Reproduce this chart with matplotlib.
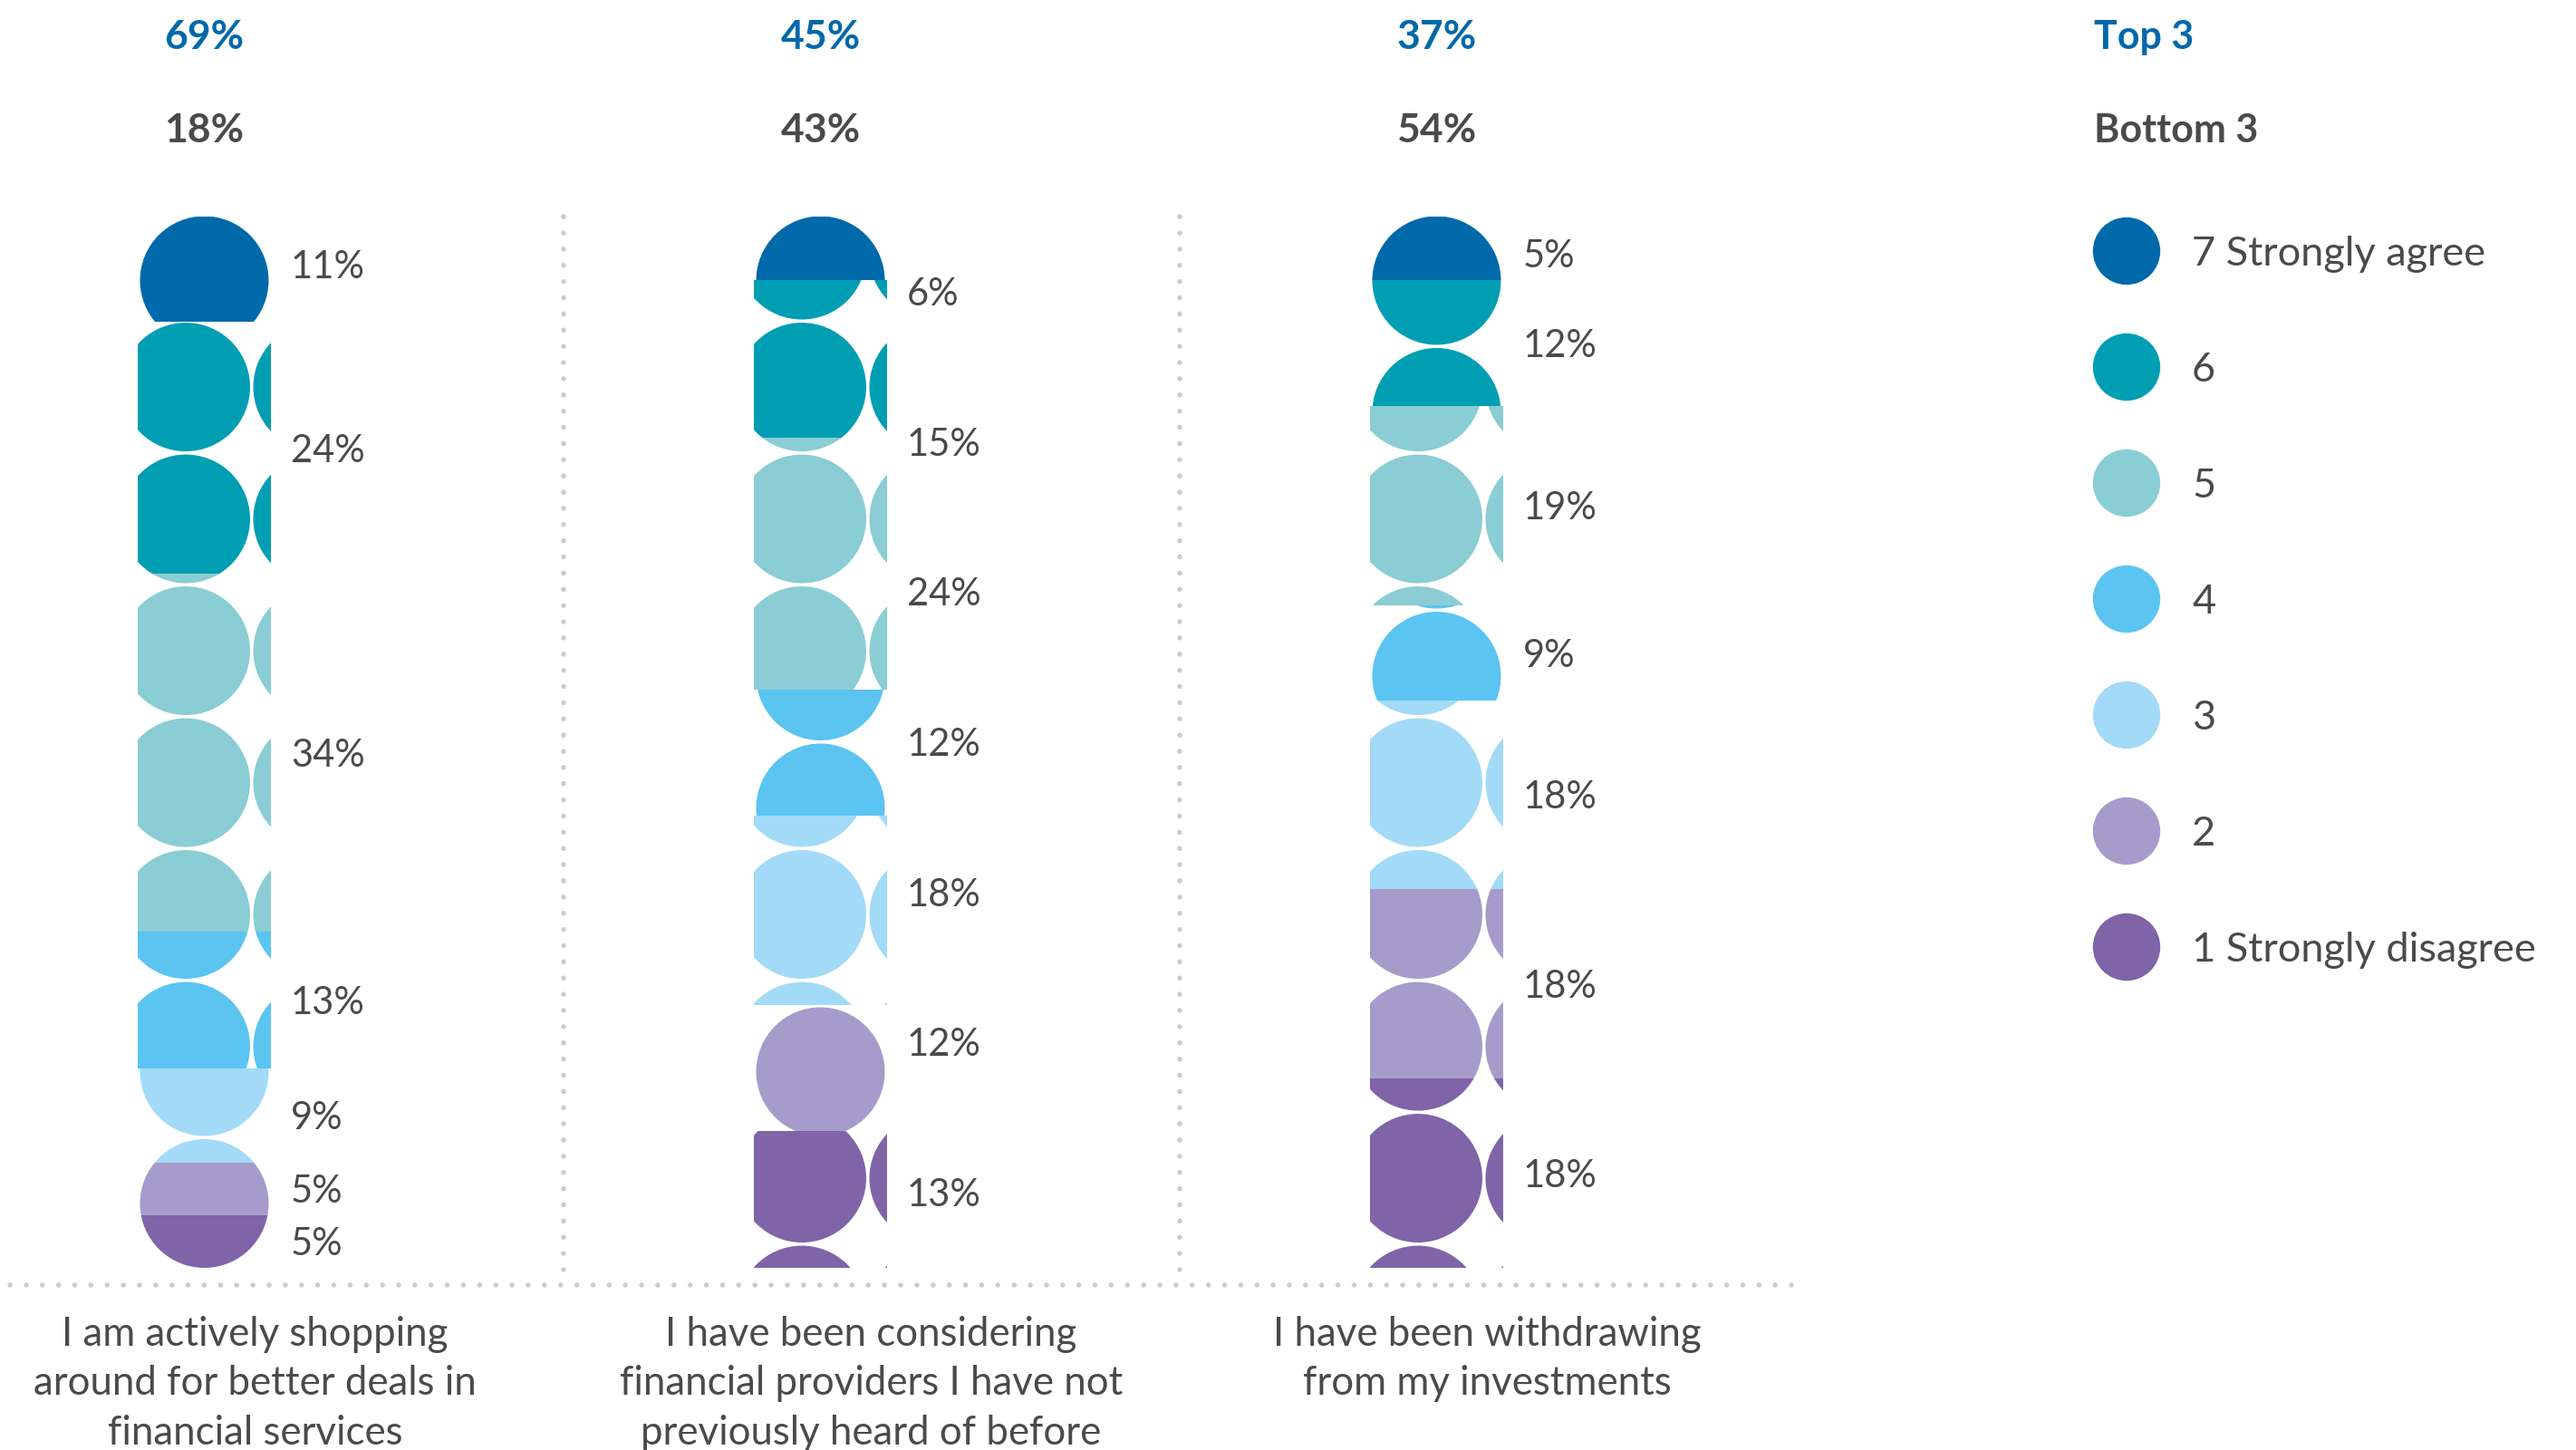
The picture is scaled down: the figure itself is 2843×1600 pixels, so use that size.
import numpy as np
import matplotlib
matplotlib.use("Agg")
import matplotlib.pyplot as plt
from matplotlib.patches import Circle, Rectangle

# ---- data -------------------------------------------------------------
statements = [
    "I am actively shopping\naround for better deals in\nfinancial services",
    "I have been considering\nfinancial providers I have not\npreviously heard of before",
    "I have been withdrawing\nfrom my investments",
]
scale_labels = ["7 Strongly agree", "6", "5", "4", "3", "2", "1 Strongly disagree"]
# share of respondents per scale point, listed from 7 down to 1
shopping = [11, 24, 34, 13, 9, 5, 5]
new_providers = [6, 15, 24, 12, 18, 12, 13]
withdrawing = [5, 12, 19, 9, 18, 18, 18]
top3 = [69, 45, 37]
bottom3 = [18, 43, 54]

series = [shopping, new_providers, withdrawing]

colors = ["#0069AA", "#009EB3", "#8ACDD4", "#5BC4F1", "#A3DAF7", "#A69CCB", "#7F64A8"]
BLUE = "#0069AA"
GREY = "#4A4A4A"
DOT = "#CFCCC8"

plt.rcParams["font.family"] = ["Lato", "DejaVu Sans"]

# ---- canvas -----------------------------------------------------------
W, H, DPI = 2843, 1600, 100
U = 11.6            # pixels per percentage point, same in x and y
BASE = 201          # baseline height above the bottom edge, in pixels
YMAX = 100          # value axis maximum

fig = plt.figure(figsize=(W / DPI, H / DPI), dpi=DPI)
ax = fig.add_axes([0, 0, 1, 1])
ax.set_xlim(0, W / U)
ax.set_ylim(-BASE / U, (H - BASE) / U)
ax.axis("off")

col_x0 = 225.5 / U      # centre of the first column
col_step = 680 / U      # distance between columns
col_w = 147 / U         # column width
R = 71 / U              # radius of the fill circles
PITCH = 145.5 / U       # circle spacing inside the fill pattern
tile_dx = -20.5 / U     # horizontal shift of the tiled pattern
tile_y0 = 8.53          # first row of the tiled pattern
single_y0 = R           # first row of the single-column pattern
group_dx = 56 / U       # statement text sits right of the column centre
TXT_DY = -0.3           # optical nudge for vertically centred text

# ---- stacked columns filled with circles ------------------------------
label_y_custom = {1: np.linspace(92.9, 7.2, 7)}

for i, vals in enumerate(series):
    xc = col_x0 + i * col_step
    bottom = 0.0
    centres = []
    n = len(vals)
    for s, (v, c) in enumerate(zip(vals[::-1], colors[::-1])):
        top = YMAX if s == n - 1 else min(bottom + v, YMAX)
        clip = Rectangle((xc - col_w / 2, bottom), col_w, top - bottom,
                         transform=ax.transData)
        if v > PITCH:
            xs = [xc + tile_dx, xc + tile_dx + PITCH]
            y0 = tile_y0
        else:
            xs = [xc]
            y0 = single_y0
        k0 = int(np.floor((bottom - R - y0) / PITCH))
        k1 = int(np.ceil((top + R - y0) / PITCH))
        for k in range(k0, k1 + 1):
            yc = y0 + k * PITCH
            for x in xs:
                circ = Circle((x, yc), R, facecolor=c, edgecolor="none", lw=0)
                ax.add_patch(circ)
                circ.set_clip_path(clip)
        centres.append(bottom + v / 2)
        bottom += v
    centres = centres[::-1]
    ys = label_y_custom.get(i, centres)
    for v, y in zip(vals, ys):
        ax.text(xc + col_w / 2 + 22 / U, y + TXT_DY, f"{v}%", ha="left",
                va="center", fontsize=30, color=GREY)

    # top / bottom box summaries
    ax.text(xc, 117.4 + TXT_DY, f"{top3[i]}%", ha="center", va="center",
            fontsize=32, fontweight="bold", color=BLUE)
    ax.text(xc, 108.5 + TXT_DY, f"{bottom3[i]}%", ha="center", va="center",
            fontsize=32, fontweight="bold", color=GREY)

    # statement text under the baseline
    gx = xc + group_dx
    for j, line in enumerate(statements[i].split("\n")):
        ax.text(gx, -86 / U - j * 54.4 / U, line, ha="center", va="baseline",
                fontsize=31.5, color=GREY)

# ---- dotted guides ----------------------------------------------------
dotted = dict(color=DOT, lw=4.0, linestyle=(0, (0.01, 17.8 / 5.55)),
              dash_capstyle="round")
ax.plot([11 / U, 1982 / U], [-19 / U, -19 / U], **dotted)
for i in range(len(series) - 1):
    sx = col_x0 + i * col_step + group_dx + col_step / 2
    ax.plot([sx, sx], [-0.2, 100.6], **dotted)

# ---- legend -----------------------------------------------------------
lx = 2311 / U
ax.text(lx, 117.4 + TXT_DY, "Top 3", ha="left", va="center", fontsize=31,
        fontweight="bold", color=BLUE)
ax.text(lx, 108.5 + TXT_DY, "Bottom 3", ha="left", va="center", fontsize=31,
        fontweight="bold", color=GREY)
for k, (lab, c) in enumerate(zip(scale_labels, colors)):
    y = (1399 - 277) / U - k * 128 / U
    ax.add_patch(Circle((2347 / U, y), 37.2 / U, facecolor=c, edgecolor="none"))
    ax.text(2419 / U, y + TXT_DY, lab, ha="left", va="center", fontsize=32.5,
            color=GREY)

fig.savefig("out.png", dpi=DPI, facecolor="white")
